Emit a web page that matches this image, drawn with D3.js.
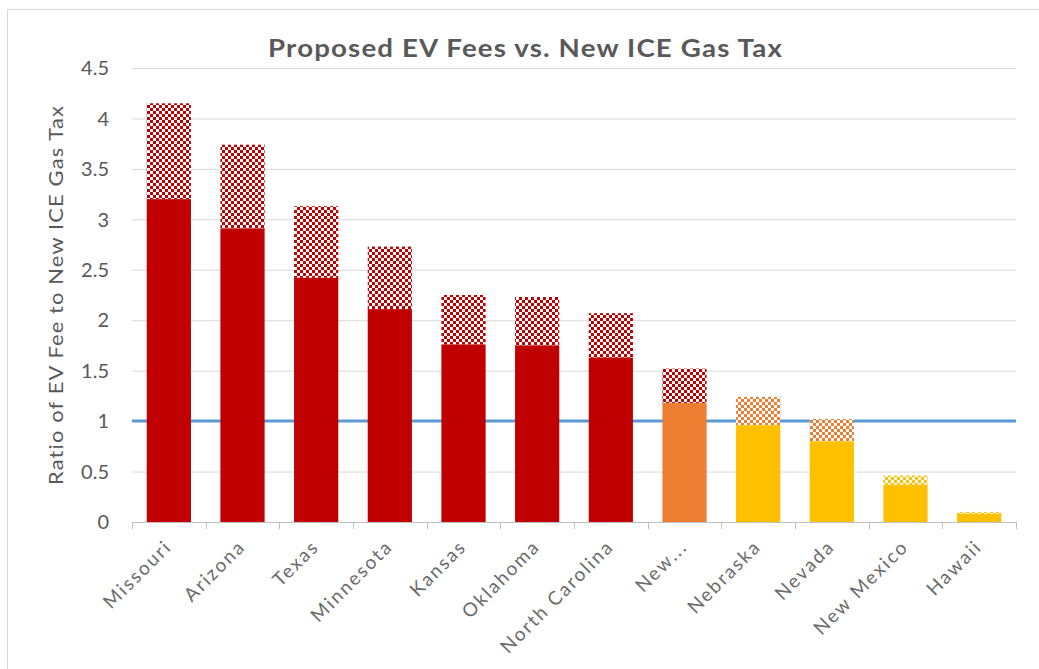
<!DOCTYPE html>
<html><head><meta charset="utf-8">
<script src="https://cdn.jsdelivr.net/npm/d3@7"></script>
<style>body{margin:0;background:#fff}svg{display:block}</style>
</head><body>
<svg id="c" width="1039" height="669"></svg>
<script>
const states = ["Missouri","Arizona","Texas","Minnesota","Kansas","Oklahoma","North Carolina","New...","Nebraska","Nevada","New Mexico","Hawaii"];
const baseRatio = [3.20,2.91,2.42,2.11,1.76,1.75,1.63,1.18,0.96,0.80,0.37,0.08];
const totalRatio = [4.15,3.74,3.13,2.73,2.25,2.23,2.07,1.52,1.24,1.02,0.46,0.10];
const baseColorKey = ["red","red","red","red","red","red","red","orange","yellow","yellow","yellow","yellow"];
const patternColorKey = ["red","red","red","red","red","red","red","red","orange","orange","yellow","yellow"];
const yTicks = [0,0.5,1,1.5,2,2.5,3,3.5,4,4.5];
const parity = 1;

const colors = {red:"#C00000", orange:"#ED7D31", yellow:"#FFC000"};
const svg = d3.select("#c");
const pLeft = 132, pRight = 1016, pTop = 68, pBottom = 522;
const font = "Lato, 'Open Sans', sans-serif";

svg.append("rect").attr("x",7.5).attr("y",9.5).attr("width",1200).attr("height",1000)
  .attr("fill","none").attr("stroke","#d9d9d9");

const defs = svg.append("defs");
Object.entries(colors).forEach(([k,c])=>{
  const p = defs.append("pattern").attr("id","chk-"+k).attr("patternUnits","userSpaceOnUse")
    .attr("width",6).attr("height",6);
  p.append("rect").attr("width",6).attr("height",6).attr("fill","#fff");
  p.append("rect").attr("x",0).attr("y",0).attr("width",3).attr("height",3).attr("fill",c);
  p.append("rect").attr("x",3).attr("y",3).attr("width",3).attr("height",3).attr("fill",c);
});

const x = d3.scaleBand().domain(states).range([pLeft,pRight]).paddingInner(0.4).paddingOuter(0.2);
const y = d3.scaleLinear().domain([0,4.5]).range([pBottom,pTop]);

// gridlines
svg.append("g").selectAll("line").data(yTicks.filter(t=>t>0)).join("line")
  .attr("x1",pLeft).attr("x2",pRight).attr("y1",d=>y(d)+0.5).attr("y2",d=>y(d)+0.5)
  .attr("stroke","#d9d9d9").attr("stroke-width",1);

// parity line (behind bars)
svg.append("line").attr("x1",pLeft).attr("x2",pRight).attr("y1",y(parity)).attr("y2",y(parity))
  .attr("stroke","#5B9BD5").attr("stroke-width",3);

// y tick labels
svg.append("g").selectAll("text").data(yTicks).join("text")
  .attr("x",109).attr("y",d=>y(d)).attr("dy","0.36em").attr("text-anchor","end")
  .attr("font-family",font).attr("font-size",20).attr("fill","#595959").text(d=>d);

// stacked bars
const data = states.map((s,i)=>({s, base:baseRatio[i], total:totalRatio[i], bc:baseColorKey[i], pc:patternColorKey[i]}));
svg.append("g").selectAll("rect").data(data).join("rect")
  .attr("x",d=>x(d.s)).attr("width",x.bandwidth())
  .attr("y",d=>y(d.total)).attr("height",d=>y(d.base)-y(d.total))
  .attr("fill",d=>"url(#chk-"+d.pc+")");
svg.append("g").selectAll("rect").data(data).join("rect")
  .attr("x",d=>x(d.s)).attr("width",x.bandwidth())
  .attr("y",d=>y(d.base)).attr("height",d=>y(0)-y(d.base))
  .attr("fill",d=>colors[d.bc]);

// x axis
const xa = svg.append("g");
xa.append("line").attr("x1",pLeft).attr("x2",pRight).attr("y1",pBottom+0.5).attr("y2",pBottom+0.5).attr("stroke","#bfbfbf");
xa.selectAll("line.t").data(d3.range(states.length+1)).join("line")
  .attr("class","t")
  .attr("x1",i=>Math.round(pLeft+i*(pRight-pLeft)/states.length)+0.5)
  .attr("x2",i=>Math.round(pLeft+i*(pRight-pLeft)/states.length)+0.5)
  .attr("y1",pBottom).attr("y2",pBottom+7)
  .attr("stroke","#bfbfbf");
xa.selectAll("text").data(states).join("text")
  .attr("transform",d=>`translate(${x(d)+x.bandwidth()/2+4},${pBottom+26}) rotate(-45)`)
  .attr("text-anchor","end")
  .attr("font-family",font).attr("font-size",19).attr("letter-spacing","2px")
  .attr("fill","#6b6b6b").text(d=>d);

// y axis title
svg.append("text").attr("transform",`translate(63,295) rotate(-90)`)
  .attr("text-anchor","middle").attr("font-family",font).attr("font-size",19).attr("fill","#595959")
  .attr("letter-spacing","1px")
  .attr("textLength",380).attr("lengthAdjust","spacingAndGlyphs")
  .text("Ratio of EV Fee to New ICE Gas Tax");

// title
svg.append("text").attr("x",525.5).attr("y",57).attr("text-anchor","middle")
  .attr("font-family",font).attr("font-size",24).attr("font-weight","bold").attr("fill","#595959")
  .attr("letter-spacing","1px")
  .attr("textLength",515).attr("lengthAdjust","spacingAndGlyphs")
  .text("Proposed EV Fees vs. New ICE Gas Tax");
</script>
</body></html>
